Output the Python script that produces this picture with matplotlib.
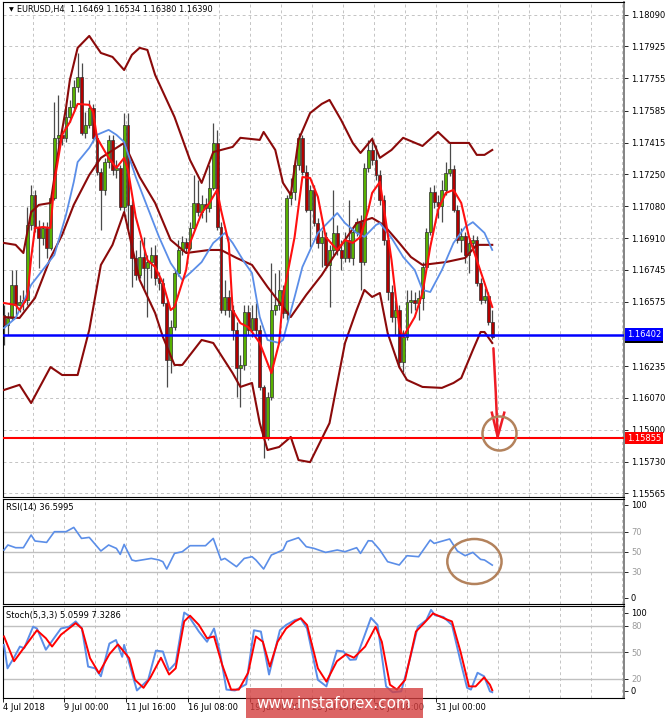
import matplotlib

matplotlib.use("Agg")

import matplotlib.pyplot as plt
import numpy as np
from matplotlib.patches import Ellipse, Rectangle
from matplotlib.transforms import blended_transform_factory

# EURUSD H4 bars (4 Jul 2018 -> 2 Aug 2018)
opens = [
    1.16506, 1.16453, 1.16490, 1.16665, 1.16559, 1.16574, 1.16585, 1.16981, 1.17140, 1.16970,
    1.16913, 1.16965, 1.16860, 1.17124, 1.17441, 1.17457, 1.17441, 1.17551, 1.17604, 1.17710,
    1.17762, 1.17467, 1.17509, 1.17599, 1.17441, 1.17260, 1.17166, 1.17313, 1.17430, 1.17271,
    1.17282, 1.17076, 1.17509, 1.17087, 1.16807, 1.16717, 1.16812, 1.16754, 1.16785, 1.16823,
    1.16701, 1.16675, 1.16569, 1.16268, 1.16442, 1.16727, 1.16849, 1.16891, 1.16860, 1.16965,
    1.17097, 1.17049, 1.17092, 1.17071, 1.17177, 1.17414, 1.16970, 1.16532, 1.16601, 1.16532,
    1.16427, 1.16226, 1.16242, 1.16521, 1.16427, 1.16490, 1.16427, 1.16126, 1.15862, 1.16073,
    1.16532, 1.16559, 1.16638, 1.16516, 1.17124, 1.17155, 1.17298, 1.17441, 1.17260, 1.17060,
    1.17166, 1.16991, 1.16886, 1.16918, 1.16770, 1.16849, 1.16939, 1.16849, 1.16807, 1.16902,
    1.16807, 1.16944, 1.16996, 1.16785, 1.17282, 1.17377, 1.17324, 1.17245, 1.17113, 1.16902,
    1.16627, 1.16495, 1.16532, 1.16257, 1.16390, 1.16574, 1.16585, 1.16569, 1.16596, 1.16759,
    1.16944, 1.17155, 1.17102, 1.17081, 1.17166, 1.17255, 1.17276, 1.17060, 1.16902, 1.16923,
    1.16823, 1.16886, 1.16902, 1.16675, 1.16585, 1.16606, 1.16469,
]
highs = [
    1.16559, 1.16521, 1.16743, 1.16743, 1.16612, 1.16638, 1.17076, 1.17193, 1.17166, 1.17007,
    1.16996, 1.16996, 1.17140, 1.17630, 1.17668, 1.17493, 1.17599, 1.17641, 1.17747, 1.17889,
    1.17836, 1.17577, 1.17641, 1.17620, 1.17457, 1.17282, 1.17335, 1.17457, 1.17457, 1.17324,
    1.17298, 1.17572, 1.17572, 1.17113, 1.16849, 1.16902, 1.16918, 1.16823, 1.16865, 1.16876,
    1.16732, 1.16701, 1.16585, 1.16479, 1.16743, 1.16902, 1.16923, 1.16913, 1.16996, 1.17245,
    1.17219, 1.17140, 1.17124, 1.17298, 1.17519, 1.17483, 1.16996, 1.16691, 1.16638, 1.16559,
    1.16468, 1.16295, 1.16559, 1.16559, 1.16559, 1.16569, 1.16453, 1.16137, 1.16099, 1.16780,
    1.16727, 1.16743, 1.16665, 1.17140, 1.17229, 1.17324, 1.17467, 1.17457, 1.17298, 1.17193,
    1.17193, 1.17018, 1.16955, 1.16944, 1.16876, 1.17166, 1.16981, 1.16902, 1.16944, 1.17113,
    1.16965, 1.17018, 1.17034, 1.17308, 1.17430, 1.17446, 1.17404, 1.17271, 1.17140, 1.16929,
    1.16665, 1.16585, 1.16559, 1.16427, 1.16638, 1.16638, 1.16627, 1.16638, 1.16785, 1.16965,
    1.17182, 1.17193, 1.17140, 1.17219, 1.17313, 1.17419, 1.17298, 1.17087, 1.16965, 1.16944,
    1.16913, 1.16929, 1.16923, 1.16701, 1.16649, 1.16627, 1.16534,
]
lows = [
    1.16348, 1.16401, 1.16479, 1.16506, 1.16521, 1.16532, 1.16559, 1.16955, 1.16944, 1.16754,
    1.16876, 1.16807, 1.16849, 1.17113, 1.17377, 1.17404, 1.17419, 1.17524, 1.17588, 1.17683,
    1.17457, 1.17441, 1.17493, 1.17419, 1.17245, 1.16955, 1.17140, 1.17282, 1.17245, 1.17229,
    1.17060, 1.17049, 1.16955, 1.16654, 1.16691, 1.16701, 1.16638, 1.16495, 1.16701, 1.16665,
    1.16638, 1.16553, 1.16126, 1.16199, 1.16427, 1.16711, 1.16823, 1.16838, 1.16849, 1.16955,
    1.17028, 1.17018, 1.16996, 1.17049, 1.17166, 1.16955, 1.16516, 1.16506, 1.16495, 1.16374,
    1.16073, 1.16020, 1.16215, 1.16401, 1.16390, 1.16401, 1.16110, 1.15751, 1.15846, 1.16057,
    1.16506, 1.16532, 1.16490, 1.16479, 1.17087, 1.17113, 1.17271, 1.17245, 1.17049, 1.16865,
    1.16975, 1.16860, 1.16759, 1.16754, 1.16548, 1.16823, 1.16823, 1.16743, 1.16785, 1.16785,
    1.16770, 1.16923, 1.16638, 1.16770, 1.17260, 1.17298, 1.17219, 1.17087, 1.16876, 1.16585,
    1.16468, 1.16401, 1.16226, 1.16204, 1.16374, 1.16516, 1.16532, 1.16479, 1.16532, 1.16743,
    1.16929, 1.17071, 1.17018, 1.16996, 1.17140, 1.17239, 1.17049, 1.16886, 1.16838, 1.16780,
    1.16727, 1.16838, 1.16659, 1.16564, 1.16569, 1.16453, 1.16380,
]
closes = [
    1.16453, 1.16490, 1.16665, 1.16559, 1.16574, 1.16585, 1.16981, 1.17140, 1.16970, 1.16913,
    1.16965, 1.16860, 1.17124, 1.17441, 1.17457, 1.17441, 1.17551, 1.17604, 1.17710, 1.17762,
    1.17467, 1.17509, 1.17599, 1.17441, 1.17260, 1.17166, 1.17313, 1.17430, 1.17271, 1.17282,
    1.17076, 1.17509, 1.17087, 1.16807, 1.16717, 1.16812, 1.16754, 1.16785, 1.16823, 1.16701,
    1.16675, 1.16569, 1.16268, 1.16442, 1.16727, 1.16849, 1.16891, 1.16860, 1.16965, 1.17097,
    1.17049, 1.17092, 1.17071, 1.17177, 1.17414, 1.16970, 1.16532, 1.16601, 1.16532, 1.16427,
    1.16226, 1.16242, 1.16521, 1.16427, 1.16490, 1.16427, 1.16126, 1.15862, 1.16073, 1.16532,
    1.16559, 1.16638, 1.16516, 1.17124, 1.17155, 1.17298, 1.17441, 1.17260, 1.17060, 1.17166,
    1.16991, 1.16886, 1.16918, 1.16770, 1.16849, 1.16939, 1.16849, 1.16807, 1.16902, 1.16807,
    1.16944, 1.16996, 1.16785, 1.17282, 1.17377, 1.17324, 1.17245, 1.17113, 1.16902, 1.16627,
    1.16495, 1.16532, 1.16257, 1.16390, 1.16574, 1.16585, 1.16569, 1.16596, 1.16759, 1.16944,
    1.17155, 1.17102, 1.17081, 1.17166, 1.17255, 1.17276, 1.17060, 1.16902, 1.16923, 1.16823,
    1.16886, 1.16902, 1.16675, 1.16585, 1.16606, 1.16469, 1.16390,
]

# Bollinger bands (sampled at bar index)
upper_idx = [0, 3, 5, 7, 9, 12, 14, 16, 17, 19, 22, 25, 28, 31, 33, 35, 37, 39, 44, 48, 51, 54,
             59, 61, 66, 67, 70, 72, 74, 76, 79, 82, 84, 87, 90, 92, 95, 97, 100, 103, 108, 112,
             115, 120, 122, 124, 126]
upper_val = [1.16886, 1.16876, 1.16833, 1.17049, 1.17087, 1.17097, 1.17366, 1.17599, 1.17747,
             1.17916, 1.17979, 1.17889, 1.17868, 1.17799, 1.17879, 1.17916, 1.17905, 1.17773,
             1.17551, 1.17324, 1.17203, 1.17366, 1.17393, 1.17441, 1.17430, 1.17472, 1.17377,
             1.17203, 1.17140, 1.17430, 1.17572, 1.17620, 1.17641, 1.17535, 1.17414, 1.17361,
             1.17435, 1.17335, 1.17377, 1.17441, 1.17398, 1.17472, 1.17414, 1.17414, 1.17351,
             1.17351, 1.17377]
mid_idx = [0, 4, 8, 12, 15, 18, 22, 25, 29, 31, 35, 39, 43, 47, 53, 56, 60, 64, 68, 74, 78, 82,
           85, 91, 95, 98, 102, 105, 108, 114, 119, 122, 126]
mid_val = [1.16495, 1.16490, 1.16596, 1.16807, 1.16929, 1.17087, 1.17245, 1.17335, 1.17388,
           1.17414, 1.17234, 1.17097, 1.16902, 1.16833, 1.16849, 1.16849, 1.16807, 1.16770,
           1.16654, 1.16495, 1.16612, 1.16717, 1.16812, 1.16991, 1.17018, 1.16981, 1.16886,
           1.16812, 1.16770, 1.16785, 1.16807, 1.16876, 1.16876]
lower_idx = [0, 4, 7, 12, 15, 19, 22, 25, 28, 31, 35, 39, 41, 44, 46, 51, 54, 59, 61, 64, 66, 68,
             71, 74, 76, 79, 84, 88, 91, 93, 95, 97, 99, 102, 104, 108, 113, 116, 118, 121, 123,
             124, 126]
lower_val = [1.16110, 1.16137, 1.16041, 1.16231, 1.16189, 1.16189, 1.16427, 1.16770, 1.16876,
             1.17049, 1.16691, 1.16516, 1.16390, 1.16242, 1.16242, 1.16374, 1.16358, 1.16199,
             1.16126, 1.16147, 1.15935, 1.15793, 1.15809, 1.15862, 1.15740, 1.15729, 1.15935,
             1.16358, 1.16532, 1.16638, 1.16601, 1.16622, 1.16411, 1.16231, 1.16163, 1.16126,
             1.16121, 1.16147, 1.16173, 1.16321, 1.16416, 1.16416, 1.16358]

# moving averages (fast red, slow blue)
red_idx = [0, 3, 4, 6, 7, 8, 10, 12, 13, 15, 17, 19, 22, 23, 24, 27, 29, 31, 32, 34, 37, 39, 41,
           43, 44, 47, 48, 51, 53, 55, 56, 58, 59, 61, 63, 64, 66, 69, 71, 72, 75, 77, 79, 81, 83,
           86, 88, 90, 92, 94, 95, 97, 98, 100, 102, 103, 106, 108, 110, 112, 114, 116, 118, 120,
           122, 124, 126]
red_val = [1.16569, 1.16559, 1.16532, 1.16596, 1.16807, 1.16965, 1.16970, 1.16965, 1.17208,
           1.17457, 1.17524, 1.17620, 1.17615, 1.17577, 1.17441, 1.17335, 1.17282, 1.17335,
           1.17271, 1.17023, 1.16796, 1.16759, 1.16675, 1.16532, 1.16548, 1.16743, 1.16886,
           1.17044, 1.17097, 1.17166, 1.17060, 1.16886, 1.16532, 1.16463, 1.16442, 1.16416,
           1.16358, 1.16199, 1.16358, 1.16601, 1.16918, 1.17234, 1.17229, 1.17129, 1.16918,
           1.16849, 1.16902, 1.16886, 1.16918, 1.17060, 1.17150, 1.17208, 1.17076, 1.16796,
           1.16442, 1.16390, 1.16495, 1.16622, 1.16865, 1.17060, 1.17150, 1.17166, 1.17097,
           1.16918, 1.16796, 1.16675, 1.16548]
blue_idx = [0, 3, 5, 7, 11, 13, 16, 18, 19, 22, 24, 27, 29, 31, 34, 37, 40, 43, 46, 48, 51, 54,
            57, 59, 62, 64, 66, 68, 71, 72, 75, 77, 81, 86, 88, 91, 93, 96, 97, 100, 103, 106,
            108, 110, 113, 116, 119, 121, 124, 126]
blue_val = [1.16437, 1.16490, 1.16574, 1.16665, 1.16770, 1.16823, 1.17034, 1.17208, 1.17313,
            1.17388, 1.17457, 1.17483, 1.17457, 1.17419, 1.17234, 1.17076, 1.16918, 1.16780,
            1.16691, 1.16727, 1.16785, 1.16886, 1.16939, 1.16886, 1.16785, 1.16727, 1.16495,
            1.16374, 1.16358, 1.16374, 1.16601, 1.16759, 1.16939, 1.17044, 1.16991, 1.16939,
            1.16918, 1.16981, 1.16991, 1.16913, 1.16812, 1.16743, 1.16638, 1.16627, 1.16743,
            1.16886, 1.16970, 1.16996, 1.16939, 1.16849]

# RSI(14)
rsi_idx = [0, 1, 3, 5, 7, 8, 11, 13, 16, 18, 20, 22, 25, 27, 29, 30, 31, 33, 34, 38, 40, 41, 42,
           44, 46, 48, 52, 54, 56, 57, 60, 62, 64, 65, 67, 69, 72, 73, 76, 78, 80, 83, 86, 88, 91,
           92, 94, 95, 97, 99, 102, 104, 107, 110, 111, 115, 117, 119, 121, 123, 124, 126]
rsi_val = [51.7, 56.7, 54.0, 54.0, 66.7, 60.7, 59.3, 70.0, 70.0, 74.3, 63.3, 64.3, 50.7, 56.7,
           53.3, 47.3, 57.3, 41.7, 40.7, 43.3, 41.7, 40.0, 32.7, 48.3, 50.0, 56.0, 56.0, 63.3,
           41.7, 43.3, 35.0, 43.3, 45.0, 41.7, 32.7, 46.7, 51.7, 60.0, 64.0, 55.0, 53.3, 49.3,
           51.7, 50.0, 54.0, 48.3, 61.0, 60.7, 51.7, 40.0, 36.7, 46.0, 45.0, 61.7, 58.3, 62.7,
           50.7, 46.0, 49.3, 42.3, 41.7, 36.6]

# Stochastic(5,3,3): main (blue) and signal (red)
k_idx = [0, 0.9, 2.5, 4.1, 5.2, 7.5, 8.5, 10.8, 12.9, 14.7, 16.8, 18.5, 20.1, 21.7, 23.5, 25,
         27.2, 28.9, 30.5, 31, 32.3, 34.3, 37.2, 39.2, 41, 42.6, 44.3, 46.5, 47.5, 50.3, 52.4,
         54.2, 55.7, 57.4, 59.6, 62.5, 64.5, 66.3, 68.4, 71.2, 72.8, 75.1, 76.6, 78.2, 81, 83.2,
         85.9, 87.6, 89.3, 90.8, 94.7, 96.4, 98.6, 100.3, 102.5, 104.6, 106.8, 109, 110.2, 111.2,
         113.4, 115.6, 117.8, 119.5, 120.5, 122.2, 123.9, 125.4, 126]
k_val = [58.5, 32, 43.5, 56.6, 54.7, 79, 77, 53, 66, 77, 79, 85, 77, 34, 32, 23, 60, 64, 45,
         58.5, 38, 7, 19, 52, 51, 30, 38, 95, 92, 73.5, 62, 77, 51, 8, 7, 14, 75, 73.5, 25, 75,
         81, 86.6, 88, 77, 19, 11.6, 52, 51, 41.6, 42, 89, 81, 11.6, 5, 6, 40, 79, 86.6, 98, 92,
         90, 81, 40, 10, 8, 27, 23, 6, 5.06]
d_idx = [0, 2.6, 4.6, 8.5, 10.8, 12.4, 14.7, 18.5, 20.1, 22.2, 24.5, 27.2, 29.4, 32.3, 33.8, 36,
         37.7, 40.5, 42.6, 44.3, 46.5, 48, 50.3, 52.4, 54.2, 56.3, 58.6, 60.6, 63, 65, 66.8, 68.6,
         70.6, 72.8, 75.1, 76.6, 78.2, 81, 83.2, 85.9, 88.3, 90.3, 93.2, 95.9, 97.5, 99.6, 101.4,
         103.5, 106.3, 108.4, 110.7, 112.3, 114.6, 115.6, 117.8, 120, 121.7, 123.9, 125.4, 126]
d_val = [68, 40, 52, 75, 66, 56.6, 70, 83, 77, 43.5, 26.6, 48, 59, 43.5, 19, 10, 21, 44, 25, 32,
         85, 91.5, 81, 66, 68, 36, 8, 8, 27, 68, 62, 34, 62, 77, 85, 88.6, 81, 32, 17, 40, 48, 44,
         56.6, 79, 62, 13.5, 8, 19, 73.5, 83, 94, 91, 86.6, 85, 51, 11.6, 11.6, 21.8, 13.5, 7.33]

price_ticks = [1.18090, 1.17925, 1.17755, 1.17585, 1.17415, 1.17250, 1.17080, 1.16910,
               1.16745, 1.16575, 1.16235, 1.16070, 1.15900, 1.15730, 1.15565]
date_labels = ["4 Jul 2018", "9 Jul 00:00", "11 Jul 16:00", "16 Jul 08:00",
               "19 Jul 00:00", "23 Jul 16:00", "26 Jul 08:00", "31 Jul 00:00"]
date_pos = [-0.2, 15.5, 31.5, 47.5, 63.5, 79.5, 95.5, 111.5]

support_level = 1.16402
target_level = 1.15855
last_bid = 1.16390

BULL = "#57b000"
BEAR = "#b30000"
BAND = "#8b0a0a"
LIGHT_BLUE = "#5b8ee8"
GRID = "#c4c4c4"
BROWN = "#b3825c"

W, H = 665, 718
fig = plt.figure(figsize=(W / 100, H / 100), dpi=100)
fig.patch.set_facecolor("white")


def px_axes(left, top, right, bottom):
    return fig.add_axes([left / W, 1 - bottom / H, (right - left) / W, (bottom - top) / H])


ax = px_axes(3, 2, 624, 497)
ax_rsi = px_axes(3, 499, 624, 604)
ax_sto = px_axes(3, 606, 624, 698)

x_lo, x_hi = -0.26, 160.0
for a in (ax, ax_rsi, ax_sto):
    a.set_xlim(x_lo, x_hi)
    for k in range(20):
        a.axvline(7.5 + 8 * k, color=GRID, lw=0.7, ls=(0, (3, 3)), zorder=0)
    for sp in a.spines.values():
        sp.set_color("black")
        sp.set_linewidth(0.8)
    a.spines["right"].set_color("#7a7a7a")
    a.spines["right"].set_linewidth(1.3)
    a.yaxis.tick_right()
    a.tick_params(axis="y", labelsize=6, length=3, width=0.6, pad=2)
    a.tick_params(axis="x", bottom=False, labelbottom=False)

# ---- main price panel ----
ax.set_ylim(1.15545, 1.18158)
for p in price_ticks:
    ax.axhline(p, color=GRID, lw=0.7, ls=(0, (3, 3)), zorder=0)
ax.set_yticks(price_ticks)
ax.set_yticklabels([f"{p:.5f}" for p in price_ticks])

o = np.array(opens)
h = np.array(highs)
lo = np.array(lows)
c = np.array(closes)
xb = np.arange(len(c))
up = c >= o
ax.vlines(xb, lo, h, color="#4a4a4a", lw=0.9, zorder=2)
ax.bar(xb[up], (c - o)[up], bottom=o[up], width=0.72, color=BULL,
       edgecolor="#2f2f2f", linewidth=0.5, zorder=3)
ax.bar(xb[~up], (o - c)[~up], bottom=c[~up], width=0.72, color=BEAR,
       edgecolor="#2f2f2f", linewidth=0.5, zorder=3)

ax.plot(upper_idx, upper_val, color=BAND, lw=1.5, zorder=4)
ax.plot(mid_idx, mid_val, color=BAND, lw=1.5, zorder=4)
ax.plot(lower_idx, lower_val, color=BAND, lw=1.5, zorder=4)
ax.plot(blue_idx, blue_val, color=LIGHT_BLUE, lw=1.3, zorder=4)
ax.plot(red_idx, red_val, color="#ff1010", lw=1.5, zorder=4)

ax.axhline(support_level, color="#0000ff", lw=1.8, zorder=5)
ax.axhline(target_level, color="#ff0000", lw=1.5, zorder=5)

# forecast arrow and target circle
arrow_col = "#ee1c25"
ax.plot([126.3, 126.9, 127.4], [1.16330, 1.16100, 1.15863], color=arrow_col, lw=1.8,
        zorder=6, solid_capstyle="round")
ax.plot([125.9, 127.4, 129.1], [1.15990, 1.15863, 1.15990], color=arrow_col, lw=1.8,
        zorder=6, solid_joinstyle="miter")
ax.plot([127.66], [1.15883], marker="o", ms=24.5, mfc="none", mec=BROWN, mew=1.8, zorder=6)

ax.text(0.0095, 0.984, "\u25bc", transform=ax.transAxes, fontsize=4.5, va="center", ha="left")
ax.text(0.0225, 0.984, "EURUSD,H4  1.16469 1.16534 1.16380 1.16390", transform=ax.transAxes,
        fontsize=5.9, va="center", ha="left")

lab_tr = blended_transform_factory(ax.transAxes, ax.transData)
ax.text(1.0045, last_bid, f"{last_bid:.5f}", transform=lab_tr, fontsize=6, color="white",
        va="center", ha="left", clip_on=False, zorder=7,
        bbox=dict(boxstyle="square,pad=0.2", fc="black", ec="none"))
ax.text(1.0045, support_level, f"{support_level:.5f}", transform=lab_tr, fontsize=6,
        color="white", va="center", ha="left", clip_on=False, zorder=8,
        bbox=dict(boxstyle="square,pad=0.2", fc="#0000ff", ec="none"))
ax.text(1.0045, target_level, f"{target_level:.5f}", transform=lab_tr, fontsize=6,
        color="white", va="center", ha="left", clip_on=False, zorder=8,
        bbox=dict(boxstyle="square,pad=0.2", fc="#ff0000", ec="none"))

# ---- RSI panel ----
ax_rsi.set_ylim(-2.3, 102.7)
for lvl in (70, 50, 30):
    ax_rsi.axhline(lvl, color="#c0c0c0", lw=1.0, zorder=1)
ax_rsi.plot(rsi_idx, rsi_val, color=LIGHT_BLUE, lw=1.2, zorder=3)
ax_rsi.set_yticks([97, 70, 50, 30, 4])
ax_rsi.set_yticklabels(["100", "70", "50", "30", "0"])
for lbl in ax_rsi.get_yticklabels()[1:4]:
    lbl.set_color("#9a9a9a")
ax_rsi.text(0.005, 0.92, "RSI(14) 36.5995", transform=ax_rsi.transAxes, fontsize=6,
            va="center", ha="left")
ax_rsi.add_patch(Ellipse((121.4, 40.2), width=14, height=45, fill=False, ec=BROWN, lw=1.8,
                         zorder=4))

# ---- Stochastic panel ----
ax_sto.set_ylim(-1.5, 102.4)
for lvl in (80, 50, 20):
    ax_sto.axhline(lvl, color="#c0c0c0", lw=1.0, zorder=1)
ax_sto.plot(k_idx, k_val, color=LIGHT_BLUE, lw=1.4, zorder=3)
ax_sto.plot(d_idx, d_val, color="#ff0000", lw=1.4, zorder=4)
ax_sto.set_yticks([94.5, 80, 50, 20, 6.7])
ax_sto.set_yticklabels(["100", "80", "50", "20", "0"])
for lbl in ax_sto.get_yticklabels()[1:4]:
    lbl.set_color("#9a9a9a")
ax_sto.text(0.005, 0.90, "Stoch(5,3,3) 5.0599 7.3286", transform=ax_sto.transAxes,
            fontsize=6, va="center", ha="left")
ax_sto.set_xticks(date_pos)
ax_sto.set_xticklabels(date_labels)
ax_sto.tick_params(axis="x", bottom=True, labelbottom=True, labelsize=6, length=3,
                   width=0.6, pad=0.8)
for lbl in ax_sto.get_xticklabels():
    lbl.set_ha("left")

# watermark
fig.add_artist(Rectangle((246 / W, 0), 177 / W, 30 / H, transform=fig.transFigure,
                         fc="#d43f3f", ec="none", alpha=0.8, zorder=20))
fig.text(334 / W, 1 - 703 / H, "www.instaforex.com", color="white", fontsize=11,
         ha="center", va="center", zorder=21)

fig.savefig("out.png", dpi=100)
